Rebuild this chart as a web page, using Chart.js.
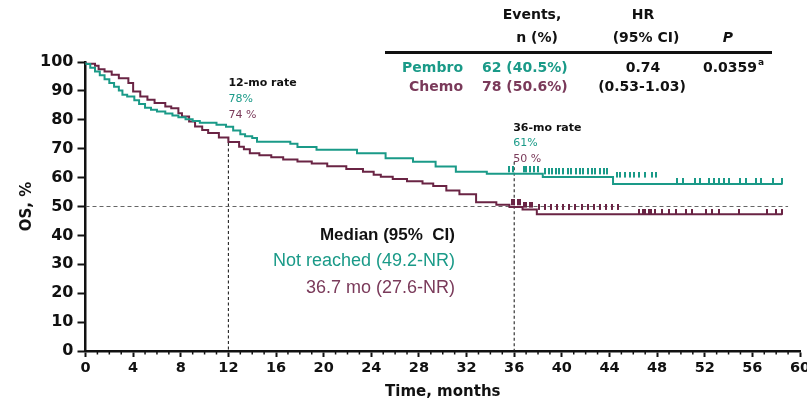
<!DOCTYPE html>
<html><head><meta charset="utf-8">
<script src="https://cdn.jsdelivr.net/npm/chart.js@4.4.1/dist/chart.umd.min.js"></script>
<style>html,body{margin:0;padding:0;background:#fff}canvas{display:block}</style>
</head><body>
<canvas id="c" width="807" height="401"></canvas>
<script>
// ---- data ----
const pembroTimes = [0,0.4,0.8,1.2,1.6,2.0,2.4,2.8,3.1,3.5,4.1,4.5,5.0,5.5,6.0,6.7,7.3,7.8,8.4,9.0,9.6,11.0,11.8,12.4,13.0,13.4,14.0,14.4,17.2,17.8,19.4,22.8,25.2,27.5,29.4,31.1,33.7,38.4,44.3,49.2,58.5];
const pembroOS    = [100,99.3,98,96.7,95.4,94,92.7,91.4,90.1,88.7,88.1,86.8,85.5,84.2,83.5,82.9,82.2,81.5,80.9,80.2,79.6,79.0,78.3,77.6,76.3,75.0,74.3,73.7,72.4,71.7,70.6,69.6,68.4,66.7,65.5,63.8,62.0,61.3,60.2,57.8,57.8];
const chemoTimes  = [0,0.8,1.1,1.6,2.2,2.8,3.6,4.0,4.6,5.2,5.8,6.7,7.2,7.8,8.1,8.7,9.2,9.8,10.3,11.2,12.0,12.9,13.3,13.8,14.6,15.6,16.6,17.8,19.0,20.3,21.9,23.3,24.2,24.8,25.8,27.0,28.3,29.2,30.3,31.4,32.8,34.5,35.6,36.7,37.9,45.1,58.5];
const chemoOS     = [100,99.4,98.7,97.5,96.7,95.6,94.4,92.7,89.8,88.1,86.9,85.8,84.6,84.0,82.3,81.1,79.4,77.7,76.5,75.4,73.9,72.3,70.7,69.8,68.4,67.7,67.0,66.3,65.6,64.9,63.9,63.0,62.0,61.0,60.3,59.5,58.7,58.0,57.1,55.5,54.2,51.5,50.6,49.8,49.0,47.3,47.3];
const pembroCensor = [35.6,35.9,36.8,37.0,37.3,37.7,38.0,38.6,38.9,39.2,39.5,39.8,40.1,40.5,40.8,41.2,41.5,41.8,42.2,42.5,42.8,43.2,43.5,43.8,44.6,44.9,45.3,45.7,46.1,46.5,47.0,47.6,47.9,49.7,50.2,51.2,51.6,52.4,52.8,53.2,53.6,54.0,55.0,55.5,56.3,56.7,57.7,58.5];
const chemoCensor  = [35.8,36.0,36.3,36.5,36.8,37.0,37.3,37.5,38.1,38.6,39.1,39.6,40.1,40.6,41.1,41.7,42.2,42.7,43.2,43.7,44.2,44.7,46.5,46.8,47.0,47.3,47.5,47.8,48.4,49.0,49.6,50.4,50.9,52.1,52.6,53.2,54.9,57.2,58.0,58.5];
const xTicks = [0,4,8,12,16,20,24,28,32,36,40,44,48,52,56,60];
const yTicks = [0,10,20,30,40,50,60,70,80,90,100];
const landmarkMonths = [12, 36];
const medianLevel = 50;

const TEAL = '#1a9a88';
const MAROON = '#6a2444';
const MAROON_TXT = '#7a3a5a';

function stepValue(times, vals, t){
  let v = vals[0];
  for (let i=0;i<times.length;i++){ if (times[i] <= t) v = vals[i]; }
  return v;
}
const toPts = (ts, vs) => ts.map((t,i)=>({x:t, y:vs[i]}));

// upward censor tick glyph (centered canvas whose upper half is painted)
function censorGlyph(color){
  const g = document.createElement('canvas');
  g.width = 2; g.height = 11;
  const gc = g.getContext('2d');
  gc.fillStyle = color; gc.fillRect(0, 0, 2, 6);
  return g;
}

const annot = {
  id:'annot',
  afterDraw(chart){
    const c = chart.ctx, xs = chart.scales.x;
    c.save();
    c.strokeStyle = '#111'; c.lineWidth = 1.5;
    const yb = chart.chartArea.bottom;
    for (let m=0;m<=60;m++){
      if (m%4===0) continue;
      const px = xs.getPixelForValue(m);
      c.beginPath(); c.moveTo(px, yb); c.lineTo(px, yb+3.5); c.stroke();
    }
    c.textBaseline = 'middle';
    function txt(s, x, y, font, color, align){
      c.font = font; c.fillStyle = color; c.textAlign = align || 'left'; c.fillText(s, x, y);
    }
    const DJ = 'DejaVu Sans';
    const x12 = xs.getPixelForValue(12), x36 = xs.getPixelForValue(36);
    txt('12-mo rate', x12, 83, 'bold 11px '+DJ, '#111');
    txt('78%', x12, 99, '11px '+DJ, TEAL);
    txt('74 %', x12, 115, '11px '+DJ, MAROON_TXT);
    txt('36-mo rate', x36-1, 128, 'bold 11px '+DJ, '#111');
    txt('61%', x36-1, 143.5, '11px '+DJ, TEAL);
    txt('50 %', x36-1, 159.5, '11px '+DJ, MAROON_TXT);
    const LS = '"Liberation Sans", Arial, sans-serif';
    txt('Median (95%  CI)', 455, 235, 'bold 17px '+LS, '#111', 'right');
    txt('Not reached (49.2-NR)', 455, 261, '18px '+LS, TEAL, 'right');
    txt('36.7 mo (27.6-NR)', 455, 288, '18px '+LS, MAROON_TXT, 'right');
    const TF = 'bold 14px '+DJ;
    txt('Events,', 532, 15, TF, '#111', 'center');
    txt('n (%)', 537, 38, TF, '#111', 'center');
    txt('HR', 643, 15, TF, '#111', 'center');
    txt('(95% CI)', 646, 38, TF, '#111', 'center');
    txt('P', 728, 38, 'italic bold 14px '+DJ, '#111', 'center');
    c.strokeStyle = '#111'; c.lineWidth = 3;
    c.beginPath(); c.moveTo(385, 52.5); c.lineTo(772, 52.5); c.stroke();
    txt('Pembro', 463, 68, TF, TEAL, 'right');
    txt('Chemo', 463, 87, TF, MAROON_TXT, 'right');
    txt('62 (40.5%)', 482, 68, TF, TEAL);
    txt('78 (50.6%)', 482, 87, TF, MAROON_TXT);
    txt('0.74', 643, 68, TF, '#111', 'center');
    txt('(0.53-1.03)', 642, 87, TF, '#111', 'center');
    txt('0.0359', 703, 68, TF, '#111');
    c.font = TF; const w = c.measureText('0.0359').width;
    txt('a', 703+w+1, 63, 'bold 9px '+DJ, '#111');
    c.restore();
  }
};

const refLine = {borderColor:'#555', borderWidth:1.2, pointRadius:0, fill:false, order:2};
new Chart(document.getElementById('c'), {
  type:'line',
  data:{datasets:[
    Object.assign({label:'median', data:[{x:0,y:medianLevel},{x:59,y:medianLevel}], borderDash:[4,3]}, refLine, {borderColor:'#666'}),
    Object.assign({label:'m12', data:[{x:landmarkMonths[0],y:stepValue(chemoTimes,chemoOS,12)},{x:landmarkMonths[0],y:0}], borderDash:[3,2.5]}, refLine, {borderColor:'#222', borderWidth:1.1}),
    Object.assign({label:'m36', data:[{x:landmarkMonths[1],y:65.5},{x:landmarkMonths[1],y:0}], borderDash:[3,2.5]}, refLine, {borderColor:'#222', borderWidth:1.1}),
    {label:'Chemo', data:toPts(chemoTimes, chemoOS), stepped:'after', borderColor:MAROON, borderWidth:2, pointRadius:0, fill:false, order:1},
    {label:'Pembro', data:toPts(pembroTimes, pembroOS), stepped:'after', borderColor:TEAL, borderWidth:2, pointRadius:0, fill:false, order:0},
    {type:'scatter', label:'Chemo censored', data:chemoCensor.map(t=>({x:t,y:stepValue(chemoTimes,chemoOS,t)})), pointStyle:censorGlyph(MAROON), showLine:false, order:1},
    {type:'scatter', label:'Pembro censored', data:pembroCensor.map(t=>({x:t,y:stepValue(pembroTimes,pembroOS,t)})), pointStyle:censorGlyph(TEAL), showLine:false, order:0}
  ]},
  options:{
    responsive:false, animation:false, devicePixelRatio:1,
    layout:{padding:{left:0,right:7,top:62,bottom:0}},
    plugins:{legend:{display:false}, tooltip:{enabled:false}},
    scales:{
      x:{type:'linear', min:0, max:60,
        afterBuildTicks(s){ s.ticks = xTicks.map(v=>({value:v})); },
        ticks:{autoSkip:false, maxRotation:0, color:'#111', padding:3, font:{family:'DejaVu Sans', weight:'bold', size:14.5}},
        grid:{drawOnChartArea:false, tickLength:6, tickColor:'#111', tickWidth:2},
        border:{color:'#111', width:2.5},
        title:{display:true, text:'Time, months', color:'#111', padding:0, font:{family:'DejaVu Sans', weight:'bold', size:15}},
        afterFit(s){ s.height = 50; s.paddingLeft = 0; s.paddingRight = 0; }
      },
      y:{min:0, max:100,
        afterBuildTicks(s){ s.ticks = yTicks.map(v=>({value:v})); },
        ticks:{color:'#111', padding:4, font:{family:'DejaVu Sans', weight:'bold', size:16}},
        grid:{drawOnChartArea:false, tickLength:8, tickColor:'#111', tickWidth:2},
        border:{color:'#111', width:2.5},
        title:{display:true, text:'OS, %', color:'#111', padding:{top:18}, font:{family:'DejaVu Sans', weight:'bold', size:15}},
        afterFit(s){ s.width = 85.5; }
      }
    }
  },
  plugins:[annot]
});
</script>
</body></html>
